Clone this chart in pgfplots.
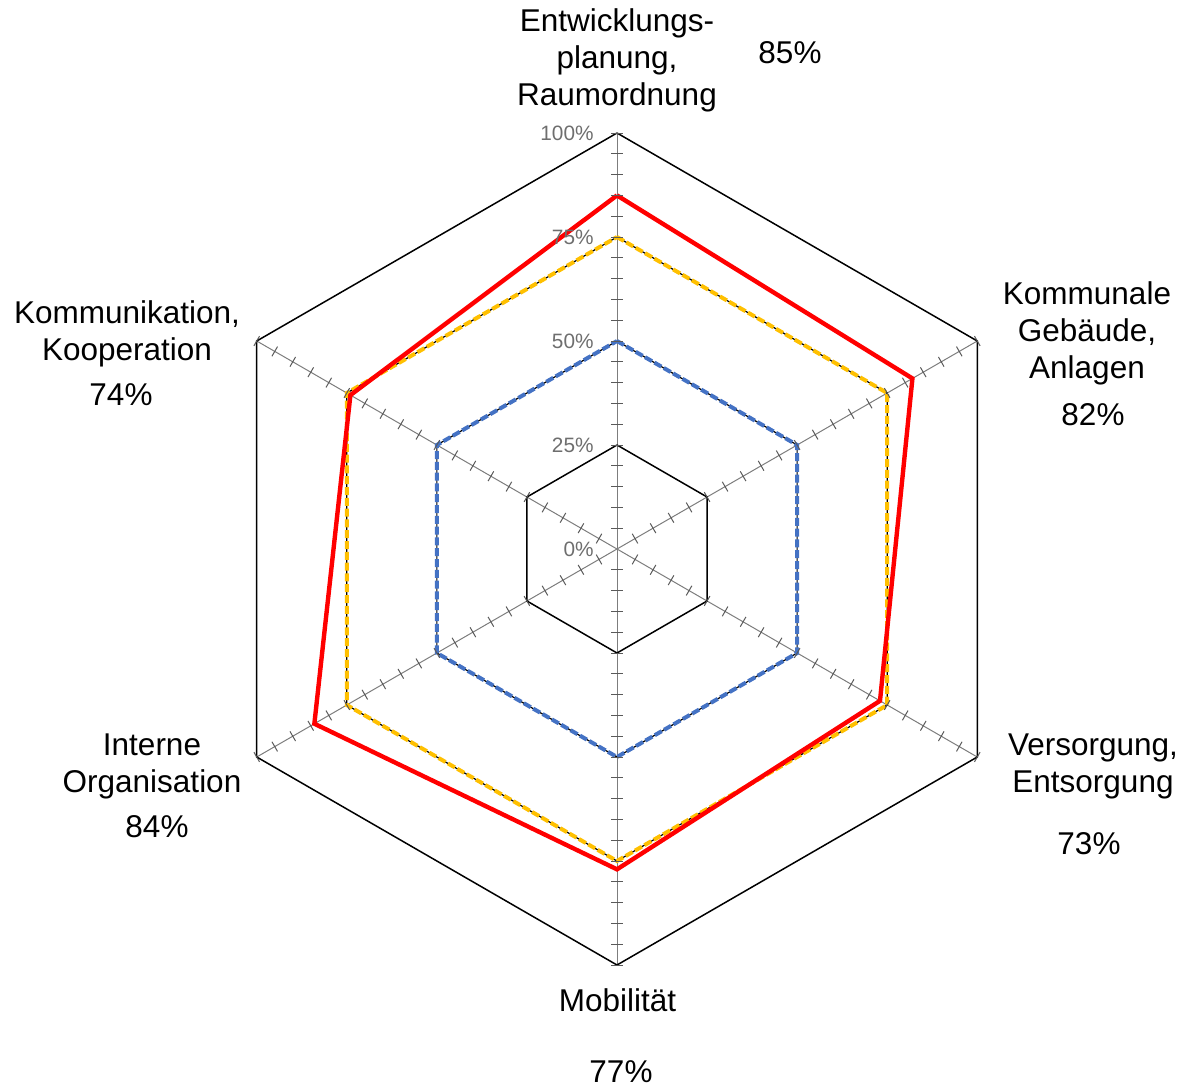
\documentclass[border=0pt]{standalone}
\usepackage{pgfplots}
\pgfplotsset{compat=1.18}
\usepackage{pgfplotstable}
\usepackage{fontspec}
\setmainfont{Liberation Sans}
\definecolor{cred}{RGB}{255,0,0}
\definecolor{cyel}{RGB}{255,192,0}
\definecolor{cblue}{RGB}{68,114,196}
\definecolor{ctick}{RGB}{90,90,90}
\definecolor{clab}{RGB}{110,110,110}
\definecolor{cspoke}{RGB}{125,125,125}

\pgfplotstableread{
a r
90 85
30 82
-30 73
-90 77
-150 84
150 74
90 85
}\redtab
\pgfplotstableread{
a r
90 75
30 75
-30 75
-90 75
-150 75
150 75
90 75
}\yeltab
\pgfplotstableread{
a r
90 50
30 50
-30 50
-90 50
-150 50
150 50
90 50
}\bluetab
\pgfplotstableread{
a r
90 100
30 100
-30 100
-90 100
-150 100
150 100
90 100
}\gridA
\pgfplotstableread{
a r
90 25
30 25
-30 25
-90 25
-150 25
150 25
90 25
}\gridB
\pgfplotstableread{
i r
0 0
20 100
}\spoketab
\pgfplotstableread{
i r
1 5
2 10
3 15
4 20
5 25
6 30
7 35
8 40
9 45
10 50
11 55
12 60
13 65
14 70
15 75
16 80
17 85
18 90
19 95
20 100
}\ticktab

\newcommand{\spoke}[1]{%
  \addplot[cspoke, line width=0.5pt] table[x expr={617+4.16*\thisrow{r}*cos(#1)}, y expr={549-4.16*\thisrow{r}*sin(#1)}] {\spoketab};
  \addplot[draw=none, mark=-, mark size=2.8pt, mark options={ctick, line width=0.5pt, rotate=#1+90}] table[x expr={617+4.16*\thisrow{r}*cos(#1)}, y expr={549-4.16*\thisrow{r}*sin(#1)}] {\ticktab};
}
\newcommand{\poly}[2]{%
  \addplot[#1] table[x expr={617+4.16*\thisrow{r}*cos(\thisrow{a})}, y expr={549-4.16*\thisrow{r}*sin(\thisrow{a})}] {#2};
}

\begin{document}
\begin{tikzpicture}
\begin{axis}[
  scale only axis, width=592.5pt, height=544pt,
  xmin=0, xmax=1185, ymin=0, ymax=1088, y dir=reverse,
  hide axis, clip=false,
]
\path (axis cs:0,0) rectangle (axis cs:1185,1088);
\spoke{90}
\spoke{30}
\spoke{-30}
\spoke{-90}
\spoke{-150}
\spoke{150}
\poly{black, line width=0.75pt}{\gridA}
\poly{black, line width=0.75pt}{\gridB}
\poly{black, line width=0.6pt}{\bluetab}
\poly{black, line width=0.6pt}{\yeltab}
\poly{cblue, line width=2pt, dash pattern=on 4pt off 1.4pt}{\bluetab}
\poly{cyel, line width=2pt, dash pattern=on 4pt off 1.4pt}{\yeltab}
\poly{cred, line width=2.2pt}{\redtab}

\tikzset{tl/.style={anchor=east, text=clab, font=\fontsize{10.4pt}{12pt}\selectfont, inner sep=0pt}}
\node[tl] at (axis cs:594,549) {0\%};
\node[tl] at (axis cs:594,445) {25\%};
\node[tl] at (axis cs:594,341) {50\%};
\node[tl] at (axis cs:594,237) {75\%};
\node[tl] at (axis cs:594,133) {100\%};

\tikzset{lab/.style={font=\fontsize{15.75pt}{18.5pt}\selectfont, align=center, inner sep=0pt}}
\node[lab] at (axis cs:617,60) {Entwicklungs-\\planung,\\Raumordnung};
\node[lab] at (axis cs:790,53) {85\%};
\node[lab] at (axis cs:1087,333) {Kommunale\\Gebäude,\\Anlagen};
\node[lab] at (axis cs:1093,415) {82\%};
\node[lab] at (axis cs:1093,766) {Versorgung,\\Entsorgung};
\node[lab] at (axis cs:1089,844) {73\%};
\node[lab] at (axis cs:617.5,1000) {Mobilität};
\node[lab] at (axis cs:621,1072) {77\%};
\node[lab] at (axis cs:152,766) {Interne\\Organisation};
\node[lab] at (axis cs:157,827) {84\%};
\node[lab] at (axis cs:127,334) {Kommunikation,\\Kooperation};
\node[lab] at (axis cs:121,395) {74\%};
\end{axis}
\end{tikzpicture}
\end{document}
